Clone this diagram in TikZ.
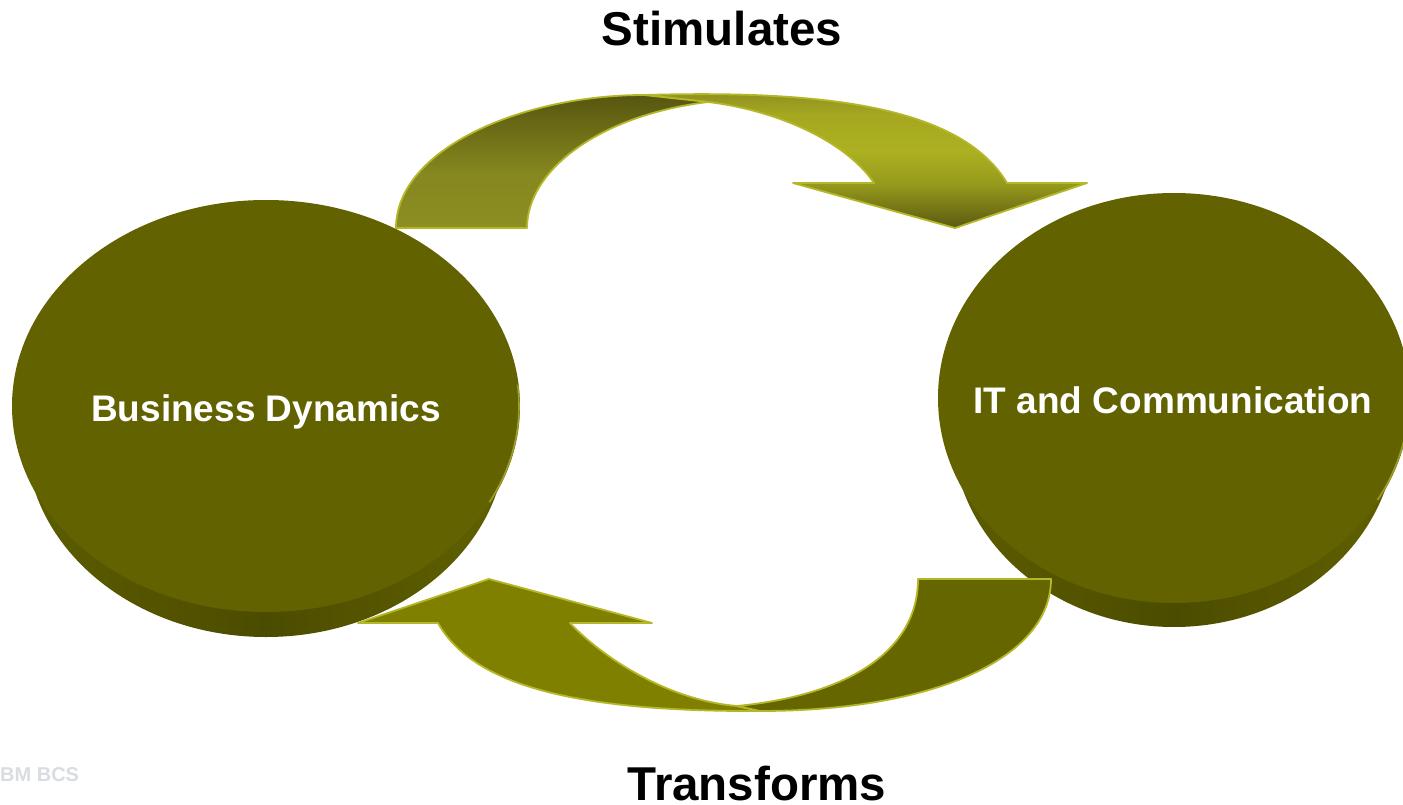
\documentclass[tikz,border=0pt]{standalone}
\usepackage{fontspec}
\setmainfont{Liberation Sans}
\definecolor{disc}{RGB}{98,98,0}
\definecolor{sideL}{RGB}{92,92,0}
\definecolor{sideM}{RGB}{76,76,0}
\definecolor{sideR}{RGB}{96,96,0}
\definecolor{rim}{RGB}{180,184,40}
\definecolor{rimlight}{RGB}{170,172,50}
\definecolor{arrA}{RGB}{128,128,0}
\definecolor{arrB}{RGB}{102,102,0}
\definecolor{wmgray}{RGB}{217,221,226}
\definecolor{tA}{RGB}{90,90,16}
\definecolor{tB}{RGB}{150,154,28}
\definecolor{tC}{RGB}{172,176,33}
\definecolor{tD}{RGB}{165,168,32}
\definecolor{tE}{RGB}{140,142,30}
\definecolor{lA}{RGB}{140,142,34}
\definecolor{lB}{RGB}{134,136,32}
\definecolor{lC}{RGB}{108,108,22}
\definecolor{lD}{RGB}{86,86,16}
\pgfdeclareverticalshading{toparrowR}{100bp}{color(0bp)=(tA); color(25bp)=(tA); color(41bp)=(tB); color(53bp)=(tC); color(66bp)=(tD); color(75bp)=(tE); color(100bp)=(tE)}
\pgfdeclareverticalshading{toparrowL}{100bp}{color(0bp)=(lA); color(25bp)=(lA); color(45bp)=(lB); color(62bp)=(lC); color(75bp)=(lD); color(100bp)=(lD)}
\begin{document}
\begin{tikzpicture}[x=1pt,y=-1pt,
  arrowpiece/.style={draw=rim, line width=1.8pt, line join=round},
  discside/.style={left color=sideL, right color=sideR, middle color=sideM},
  disctop/.style={fill=disc},
  rimline/.style={draw=rimlight, line width=1.6pt, opacity=0.8},
  disctext/.style={text=white, font=\fontsize{37}{44}\selectfont\bfseries, inner sep=0pt, anchor=base},
  labeltext/.style={text=black, font=\fontsize{47.5}{56}\selectfont\bfseries, inner sep=0pt, anchor=base},
  wmtext/.style={text=wmgray, font=\fontsize{20}{24}\selectfont\bfseries, inner sep=0pt, anchor=base west}]
\fill[white] (0,0) rectangle (1403,805);
\useasboundingbox (0,0) rectangle (1403,805);

% top arrow (Stimulates)
\path[arrowpiece, shading=toparrowR, shading angle=0]
  (644,95) .. controls (820,90) and (960,105) .. (1007,183) -- (1087,183) -- (955,228)
  -- (793,183) -- (874,183) .. controls (845,140) and (775,110) .. (708,102) -- cycle;
\path[arrowpiece, shading=toparrowL, shading angle=0]
  (396,228) -- (527,228) .. controls (527,170) and (600,115) .. (708,102)
  -- (644,95) .. controls (520,95) and (396,150) .. (396,228) -- cycle;

% left disc
\shade[discside] (266,437) ellipse [x radius=240pt, y radius=200pt];
\fill[disctop] (266,406) ellipse [x radius=254pt, y radius=206pt];
\draw[rimline] plot[domain=-6:28, samples=30] ({266+253*cos(\x)},{406+205*sin(\x)});

% right disc
\shade[discside] (1174,428) ellipse [x radius=222pt, y radius=199pt];
\fill[disctop] (1174,398) ellipse [x radius=236pt, y radius=205pt];
\draw[rimline] plot[domain=8:30, samples=30] ({1174+235*cos(\x)},{398+204*sin(\x)});

% bottom arrow (Transforms)
\path[arrowpiece, fill=arrA]
  (438,623) -- (358,623) -- (489,579) -- (652,623) -- (570,623)
  .. controls (600,655) and (665,700) .. (737,706) -- (760,711)
  .. controls (560,712) and (470,680) .. (438,623) -- cycle;
\path[arrowpiece, fill=arrB]
  (918,579) -- (1051,579) .. controls (1051,660) and (930,711) .. (760,711)
  -- (737,706) .. controls (850,695) and (918,650) .. (918,579) -- cycle;

% texts
\node[disctext] (bd) at (266,421) {Business Dynamics};
\node[disctext] (itc) at (1173,413) {IT and Communication};
\node[labeltext] (stim) at (722,46) {Stimulates};
\node[labeltext] (trans) at (757,800) {Transforms};
\node[wmtext] (wm) at (0,781) {BM BCS};
\end{tikzpicture}
\end{document}
